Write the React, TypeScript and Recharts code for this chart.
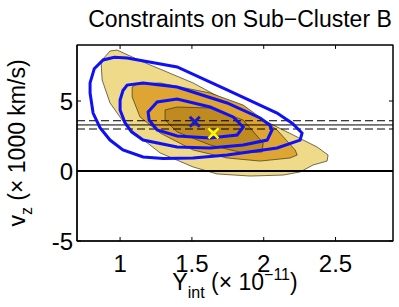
import React from "react";
import { ScatterChart, Scatter, XAxis, YAxis, ReferenceArea, ReferenceLine } from "recharts";

// posterior contours (filled) — Y_int in 1e-11, v_z in 1000 km/s
const fillOuter = [
  [0.875, 7.93], [0.93, 8.57], [0.979, 8.64], [1.16, 7.79], [1.508, 6.29], [1.857, 4.36],
  [2.205, 2.57], [2.372, 1.71], [2.448, 1.14], [2.441, 0.71], [2.344, 0.43], [2.253, -0.07],
  [2.135, -0.29], [1.905, -0.36], [1.675, -0.21], [1.508, 0.29], [1.279, 1.29], [1.049, 3.14],
  [0.93, 4.86], [0.875, 6.5], [0.868, 7.71],
];
const fillMid = [
  [1.084, 6.0], [1.118, 6.21], [1.279, 6.29], [1.627, 5.57], [1.857, 4.71], [2.093, 2.93],
  [2.219, 1.5], [2.233, 1.14], [2.184, 0.93], [1.975, 0.71], [1.745, 0.93], [1.508, 1.5],
  [1.279, 2.71], [1.139, 3.86], [1.084, 5.29],
];
const fillInner = [
  [1.313, 4.36], [1.397, 4.57], [1.627, 4.5], [1.857, 3.64], [1.996, 2.0], [1.989, 1.36],
  [1.857, 1.29], [1.627, 1.86], [1.397, 2.79], [1.313, 3.64],
];

// blue contours
const blueOuter = [
  [0.791, 6.29], [0.82, 7.3], [0.882, 7.93], [0.96, 8.12], [1.049, 8.07], [1.397, 7.43],
  [1.745, 5.79], [2.093, 4.14], [2.2, 3.4], [2.267, 2.71], [2.253, 2.21], [2.093, 1.64],
  [1.745, 1.14], [1.508, 0.93], [1.3, 0.9], [1.16, 1.0], [1.02, 1.5], [0.93, 2.21],
  [0.86, 3.1], [0.812, 4.14], [0.791, 5.57],
];
const blueMid = [
  [1.0, 5.07], [1.02, 5.75], [1.049, 6.14], [1.16, 6.29], [1.397, 6.0], [1.745, 4.86],
  [1.975, 3.79], [2.04, 3.3], [2.058, 2.93], [2.024, 2.21], [1.857, 1.86], [1.627, 1.64],
  [1.397, 1.71], [1.16, 2.21], [1.08, 2.8], [1.035, 3.43], [1.0, 4.36],
];
const blueInner = [
  [1.195, 4.21], [1.258, 4.93], [1.397, 5.14], [1.627, 4.57], [1.787, 3.86], [1.857, 3.14],
  [1.815, 2.57], [1.627, 2.36], [1.397, 2.5], [1.258, 2.93], [1.202, 3.64],
];

const xRange = [0.7, 2.9];
const yRange = [-5, 9];
const obsVz = 3.29;
const obsVzErr = [3.59, 3.0];
const bestBlue = [{ x: 1.52, y: 3.52 }];
const bestYellow = [{ x: 1.65, y: 2.69 }];

const xTicks = [1, 1.5, 2, 2.5];
const yTicks = [-5, 0, 5];
const tickLenX = 0.028; // inward tick length on the right edge, in x units
const tickLenY = 0.28; // inward tick length on the top edge, in y units

const pts = (arr: number[][]) => arr.map(([x, y]) => ({ x, y }));
const hline = (y: number) => xRange.map((x) => ({ x, y }));

const FONT = "'Liberation Sans', Arial, Helvetica, sans-serif";
const noDot = () => <g />;

// plot box, matches chart margins + axis sizes below
const BOX = { left: 77, top: 45, width: 316, height: 196 };

const cross = (color: string, w: number) => (p: any) => {
  const { cx, cy } = p;
  const s = 5;
  return (
    <g stroke={color} strokeWidth={w}>
      <line x1={cx - s} y1={cy - s} x2={cx + s} y2={cy + s} />
      <line x1={cx - s} y1={cy + s} x2={cx + s} y2={cy - s} />
    </g>
  );
};

const XLabel = (props: any) => {
  const vb = props.viewBox || {};
  const cx = vb.x + vb.width / 2;
  return (
    <text x={cx} y={290} textAnchor="middle" fontSize={23} fontFamily={FONT} fill="#000">
      <tspan>Y</tspan>
      <tspan fontSize={16} dy={8}>int</tspan>
      <tspan dy={-8}> (× 10</tspan>
      <tspan fontSize={16} dy={-10}>−11</tspan>
      <tspan dy={10}>)</tspan>
    </text>
  );
};

const YLabel = (props: any) => {
  const vb = props.viewBox || {};
  const cy = vb.y + vb.height / 2;
  const x = 25;
  return (
    <text x={x} y={cy} transform={`rotate(-90, ${x}, ${cy})`} textAnchor="middle" fontSize={23} fontFamily={FONT} fill="#000">
      <tspan>v</tspan>
      <tspan fontSize={16} dy={7}>z</tspan>
      <tspan dy={-7}> (× 1000 km/s)</tspan>
    </text>
  );
};

const tickStyle = { fill: "#000", fontSize: 24, fontFamily: FONT };

export default function App() {
  return (
    <div style={{ position: "absolute", left: 0, top: 0, width: 399, height: 307, background: "#fff" }}>
      <div
        style={{
          position: "absolute", left: 80, top: 8, width: 320, textAlign: "center",
          fontFamily: FONT, fontSize: 23, lineHeight: "23px", color: "#000",
        }}
      >
        Constraints on Sub−Cluster B
      </div>
      <ScatterChart width={399} height={307} margin={{ top: 45, right: 6, left: 0, bottom: 0 }}>
        <XAxis
          type="number" dataKey="x" domain={xRange} ticks={xTicks}
          height={66} tickSize={-4} tickMargin={18} tick={tickStyle}
          axisLine={{ stroke: "#000" }} tickLine={{ stroke: "#000" }}
          label={{ content: XLabel }}
        />
        <YAxis
          type="number" dataKey="y" domain={yRange} ticks={yTicks}
          width={77} tickSize={-4} tickMargin={8} tick={tickStyle}
          axisLine={{ stroke: "#000" }} tickLine={{ stroke: "#000" }}
          label={{ content: YLabel }}
        />

        <Scatter data={pts(fillOuter)} shape={noDot} isAnimationActive={false} lineJointType="linearClosed"
          line={{ fill: "#EEDA88", stroke: "#3a3020", strokeWidth: 0.7 }} />
        <Scatter data={pts(fillMid)} shape={noDot} isAnimationActive={false} lineJointType="linearClosed"
          line={{ fill: "#DEA532", stroke: "#3a3020", strokeWidth: 0.7 }} />
        <Scatter data={pts(fillInner)} shape={noDot} isAnimationActive={false} lineJointType="linearClosed"
          line={{ fill: "#BF8A20", stroke: "#3a3020", strokeWidth: 0.7 }} />

        <Scatter data={hline(0)} shape={noDot} isAnimationActive={false}
          line={{ stroke: "#000", strokeWidth: 2 }} />
        <Scatter data={hline(obsVz)} shape={noDot} isAnimationActive={false}
          line={{ stroke: "#000", strokeWidth: 1 }} />
        {obsVzErr.map((v, i) => (
          <Scatter key={i} data={hline(v)} shape={noDot} isAnimationActive={false}
            line={{ stroke: "#000", strokeWidth: 1, strokeDasharray: "8 4" }} />
        ))}

        <Scatter data={pts(blueOuter)} shape={noDot} isAnimationActive={false} lineJointType="linearClosed"
          line={{ fill: "none", stroke: "#1010F5", strokeWidth: 3 }} />
        <Scatter data={pts(blueMid)} shape={noDot} isAnimationActive={false} lineJointType="linearClosed"
          line={{ fill: "none", stroke: "#1010F5", strokeWidth: 3 }} />
        <Scatter data={pts(blueInner)} shape={noDot} isAnimationActive={false} lineJointType="linearClosed"
          line={{ fill: "none", stroke: "#1010F5", strokeWidth: 3 }} />

        <Scatter data={bestBlue} shape={cross("#1A1ACC", 3)} isAnimationActive={false} />
        <Scatter data={bestYellow} shape={cross("#FFFF00", 2.5)} isAnimationActive={false} />

        {/* frame with mirrored inward ticks on top and right */}
        <ReferenceArea x1={xRange[0]} x2={xRange[1]} y1={yRange[0]} y2={yRange[1]}
          fill="none" fillOpacity={0} stroke="#000" strokeWidth={1} ifOverflow="visible" />
        {xTicks.map((t) => (
          <ReferenceLine key={"tx" + t} ifOverflow="visible" stroke="#000"
            segment={[{ x: t, y: yRange[1] }, { x: t, y: yRange[1] - tickLenY }]} />
        ))}
        {yTicks.map((t) => (
          <ReferenceLine key={"ty" + t} ifOverflow="visible" stroke="#000"
            segment={[{ x: xRange[1], y: t }, { x: xRange[1] - tickLenX, y: t }]} />
        ))}
      </ScatterChart>
      {/* fallback box outline over the plot area */}
      <svg width={399} height={307} style={{ position: "absolute", left: 0, top: 0, pointerEvents: "none" }}>
        <rect x={BOX.left} y={BOX.top} width={BOX.width} height={BOX.height} fill="none" stroke="#000" strokeWidth={1} />
      </svg>
    </div>
  );
}
